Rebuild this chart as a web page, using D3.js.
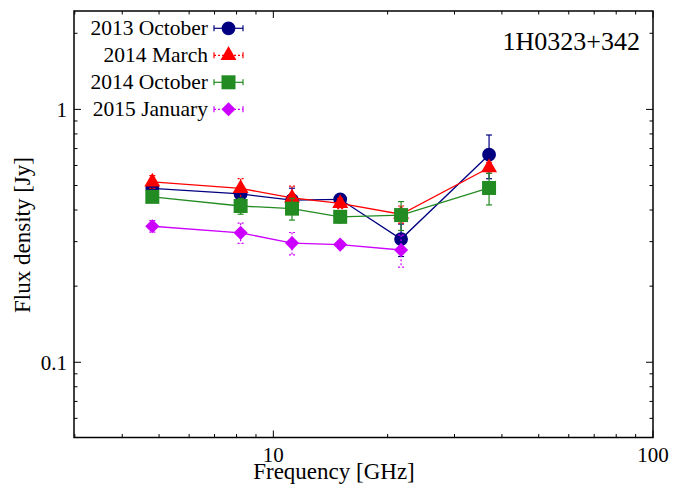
<!DOCTYPE html>
<html>
<head>
<meta charset="utf-8">
<script src="https://cdn.jsdelivr.net/npm/d3@7"></script>
</head>
<body style="margin:0; background:#fff">
<div id="chart"></div>
<script>
// data
var freqs = [4.8, 8.2, 11.2, 15, 21.7, 37];
var seriesNames = ["2013 October", "2014 March", "2014 October", "2015 January"];
var flux2013Oct = [0.487, 0.463, 0.438, 0.441, 0.307, 0.662];
var err2013Oct  = [0.02, 0.02, 0.05, 0.02, 0.045, 0.13];
var flux2014Mar = [0.517, 0.487, 0.447, 0.425, 0.385, 0.588];
var err2014Mar  = [0.03, 0.045, 0.05, 0.02, 0.03, 0.03];
var flux2014Oct = [0.451, 0.415, 0.405, 0.376, 0.382, 0.489];
var err2014Oct  = [0.02, 0.03, 0.04, 0.02, 0.05, 0.07];
var flux2015Jan = [0.345, 0.325, 0.296, 0.292, 0.278];
var err2015Jan  = [0.018, 0.03, 0.03, 0.01, 0.04];
var xTickLabels = [10, 100];
var yTickLabels = [0.1, 1];

var width = 675, height = 486;
var margin = {top: 11, right: 22, bottom: 48.5, left: 74};
var serif = "'Liberation Serif', 'Times New Roman', serif";

var svg = d3.select("#chart").append("svg")
    .attr("width", width)
    .attr("height", height)
    .attr("font-family", serif);

var x = d3.scaleLog().domain([2.985, 100]).range([margin.left, width - margin.right]);
var y = d3.scaleLog().domain([0.0504, 2.45]).range([height - margin.bottom, margin.top]);

var styles = [
  {color: "#000080", dash: null, symbol: d3.symbolCircle, size: 150, rot: 0},
  {color: "#ff0000", dash: "2,2", symbol: d3.symbolTriangle, size: 110, rot: 0},
  {color: "#228b22", dash: null, symbol: d3.symbolSquare, size: 196, rot: 0},
  {color: "#cc00ff", dash: "2,2", symbol: d3.symbolSquare, size: 100, rot: 45}
];

var series = [
  {name: seriesNames[0], vals: flux2013Oct, errs: err2013Oct},
  {name: seriesNames[1], vals: flux2014Mar, errs: err2014Mar},
  {name: seriesNames[2], vals: flux2014Oct, errs: err2014Oct},
  {name: seriesNames[3], vals: flux2015Jan, errs: err2015Jan}
].map((s, i) => ({name: s.name, style: styles[i],
  points: s.vals.map((v, j) => ({f: freqs[j], v: v, e: s.errs[j]}))}));

// axes: ticks inside on all sides
var x0 = margin.left, x1 = width - margin.right;
var y0 = height - margin.bottom, y1 = margin.top;

var xMinor = [], yMinor = [];
[1, 10].forEach(d => { for (var k = 2; k <= 9; k++) xMinor.push(d * k); });
[0.01, 0.1, 1].forEach(d => { for (var k = 2; k <= 9; k++) yMinor.push(d * k); });
xMinor = xMinor.filter(v => v > 2.985 && v < 100);
yMinor = yMinor.filter(v => v > 0.0504 && v < 2.45);

var ticks = svg.append("g").attr("stroke", "#000").attr("stroke-width", 1);
xMinor.forEach(v => {
  ticks.append("line").attr("x1", x(v)).attr("x2", x(v)).attr("y1", y0).attr("y2", y0 - 3.5);
  ticks.append("line").attr("x1", x(v)).attr("x2", x(v)).attr("y1", y1).attr("y2", y1 + 3.5);
});
xTickLabels.forEach(v => {
  ticks.append("line").attr("x1", x(v)).attr("x2", x(v)).attr("y1", y0).attr("y2", y0 - 7);
  ticks.append("line").attr("x1", x(v)).attr("x2", x(v)).attr("y1", y1).attr("y2", y1 + 7);
});
yMinor.forEach(v => {
  ticks.append("line").attr("y1", y(v)).attr("y2", y(v)).attr("x1", x0).attr("x2", x0 + 3.5);
  ticks.append("line").attr("y1", y(v)).attr("y2", y(v)).attr("x1", x1).attr("x2", x1 - 3.5);
});
yTickLabels.forEach(v => {
  ticks.append("line").attr("y1", y(v)).attr("y2", y(v)).attr("x1", x0).attr("x2", x0 + 7);
  ticks.append("line").attr("y1", y(v)).attr("y2", y(v)).attr("x1", x1).attr("x2", x1 - 7);
});

svg.append("rect")
    .attr("x", x0).attr("y", y1)
    .attr("width", x1 - x0).attr("height", y0 - y1)
    .attr("fill", "none").attr("stroke", "#000").attr("stroke-width", 1.5);

svg.append("g").selectAll("text")
  .data(xTickLabels).join("text")
    .attr("x", d => x(d)).attr("y", 461.5)
    .attr("text-anchor", "middle")
    .attr("font-size", 21)
    .text(d => d);

svg.append("g").selectAll("text")
  .data(yTickLabels).join("text")
    .attr("x", 67).attr("y", d => y(d) + 7.3)
    .attr("text-anchor", "end")
    .attr("font-size", 21)
    .text(d => d);

svg.append("text")
    .attr("x", 334).attr("y", 478.5)
    .attr("text-anchor", "middle")
    .attr("font-size", 23)
    .text("Frequency [GHz]");

svg.append("text")
    .attr("transform", "translate(29.5,235) rotate(-90)")
    .attr("text-anchor", "middle")
    .attr("font-size", 23)
    .text("Flux density [Jy]");

svg.append("text")
    .attr("x", 640).attr("y", 50)
    .attr("text-anchor", "end")
    .attr("font-size", 26)
    .text("1H0323+342");

// series
var line = d3.line().x(d => x(d.f)).y(d => y(d.v));

series.forEach(s => {
  var g = svg.append("g");
  var c = s.style.color;
  g.append("path")
      .attr("d", line(s.points))
      .attr("fill", "none")
      .attr("stroke", c)
      .attr("stroke-width", 1.3);
  var eb = g.append("g").attr("stroke", c).attr("stroke-width", 1.2)
      .attr("stroke-dasharray", s.style.dash);
  s.points.forEach(p => {
    var px = x(p.f);
    var ya = y(p.v + p.e), yb = y(p.v - p.e);
    eb.append("line").attr("x1", px).attr("x2", px).attr("y1", ya).attr("y2", yb);
    eb.append("line").attr("x1", px - 3).attr("x2", px + 3).attr("y1", ya).attr("y2", ya).attr("stroke-dasharray", null);
    eb.append("line").attr("x1", px - 3).attr("x2", px + 3).attr("y1", yb).attr("y2", yb).attr("stroke-dasharray", null);
  });
  g.selectAll("path.m")
    .data(s.points).join("path")
      .attr("class", "m")
      .attr("transform", d => `translate(${x(d.f)},${y(d.v)}) rotate(${s.style.rot})`)
      .attr("d", d3.symbol().type(s.style.symbol).size(s.style.size))
      .attr("fill", c);
});

// legend
var legend = svg.append("g");
series.forEach((s, i) => {
  var ly = 28.3 + i * 27;
  var c = s.style.color;
  legend.append("text")
      .attr("x", 208).attr("y", ly + 6.8)
      .attr("text-anchor", "end")
      .attr("font-size", 21.5)
      .text(s.name);
  var lg = legend.append("g").attr("stroke", c).attr("stroke-width", 1.2);
  lg.append("line").attr("x1", 214).attr("x2", 243).attr("y1", ly).attr("y2", ly)
      .attr("stroke-dasharray", s.style.dash);
  lg.append("line").attr("x1", 214).attr("x2", 214).attr("y1", ly - 3).attr("y2", ly + 3);
  lg.append("line").attr("x1", 243).attr("x2", 243).attr("y1", ly - 3).attr("y2", ly + 3);
  legend.append("path")
      .attr("transform", `translate(228.5,${ly}) rotate(${s.style.rot})`)
      .attr("d", d3.symbol().type(s.style.symbol).size(s.style.size))
      .attr("fill", c);
});
</script>
</body>
</html>
